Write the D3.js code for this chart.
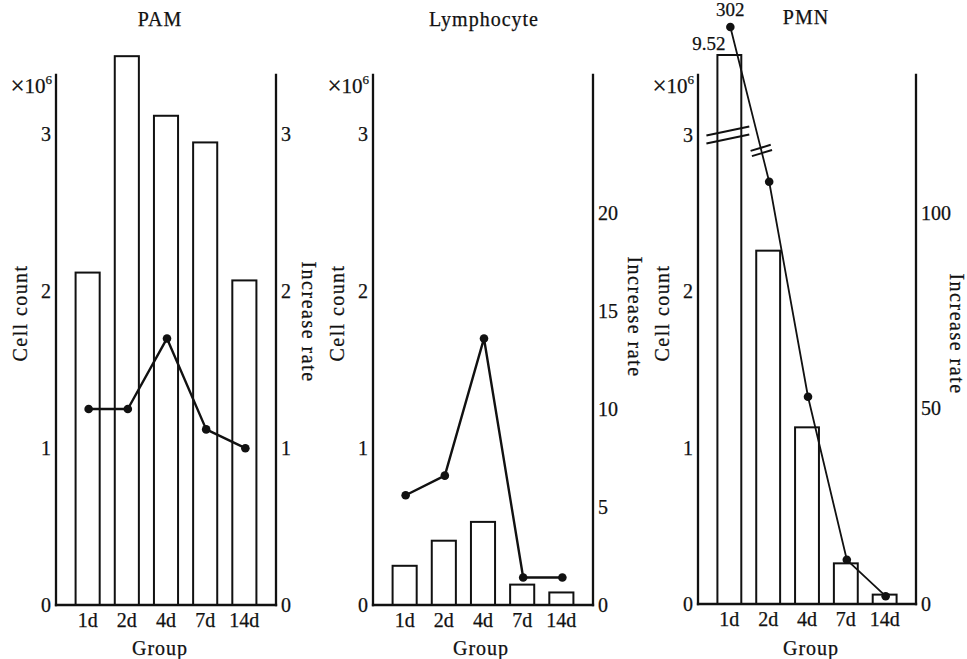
<!DOCTYPE html>
<html>
<head>
<meta charset="utf-8">
<script src="https://cdn.jsdelivr.net/npm/d3@7"></script>
<style>
  html, body { margin: 0; padding: 0; background: #fff; }
  svg { display: block; }
  text { font-family: "Liberation Serif", "DejaVu Serif", serif; fill: #111; stroke: #111; stroke-width: 0.25px; }
</style>
</head>
<body>
<svg id="chart" width="967" height="659"></svg>
<script>
// Groups (days after exposure)
const groups = ["1d", "2d", "4d", "7d", "14d"];

// Cell counts (x10^6)
const pamCount = [2.12, 3.50, 3.12, 2.95, 2.07];
const lymCount = [0.25, 0.41, 0.53, 0.13, 0.08];
const pmnCount = [9.52, 2.26, 1.13, 0.26, 0.06];

// Increase rates
const pamRate = [1.25, 1.25, 1.70, 1.12, 1.00];
const lymRate = [5.6, 6.6, 13.6, 1.4, 1.4];
const pmnRate = [302, 108, 53, 11.3, 2.0];

// Tick values
const countTicks = [0, 1, 2, 3];
const pamRateTicks = [0, 1, 2, 3];
const lymRateTicks = [0, 5, 10, 15, 20];
const pmnRateTicks = [0, 50, 100];

// PMN axes are broken above these values
const pmnCountBreak = 3.0;
const pmnRateBreak = 116;

const svg = d3.select("#chart");
const INK = "#111";

const panels = [
  {
    title: "PAM", left: 56, right: 276, top: 75, bottom: 605,
    count: pamCount, rate: pamRate,
    countDomain: [0, 3.38], rateDomain: [0, 3.38], rateTicks: pamRateTicks,
    titleDx: -6, groupDx: -6, rateLabelDx: 33, rateLabelY: 322, lineWidth: 2.4
  },
  {
    title: "Lymphocyte", left: 373, right: 593, top: 75, bottom: 605,
    count: lymCount, rate: lymRate,
    countDomain: [0, 3.38], rateDomain: [0, 27.04], rateTicks: lymRateTicks,
    titleDx: 1, groupDx: -2, rateLabelDx: 42, rateLabelY: 317, lineWidth: 2.4
  },
  {
    title: "PMN", left: 698, right: 916, top: 75, bottom: 604,
    count: pmnCount, rate: pmnRate,
    // piecewise scales: linear up to the axis top, compressed above the break
    countDomain: [0, 3.39, 9.52], countRangeTop: [74, 55],
    rateDomain: [0, 135.3, 302], rateRangeTop: [75, 27],
    rateTicks: pmnRateTicks,
    titleDx: -1, groupDx: 4, rateLabelDx: 41, rateLabelY: 334, lineWidth: 1.8,
    broken: true
  }
];

function styleTicks(axisG) {
  axisG.select(".domain").remove();
  axisG.attr("font-family", null).attr("font-size", null);
  axisG.selectAll("text").style("font-size", "20px").attr("fill", INK);
}

panels.forEach(p => {
  const g = svg.append("g");

  const x = d3.scaleBand()
    .domain(groups)
    .range([p.left, p.right])
    .paddingInner(0.385)
    .paddingOuter(0.5);

  const yCount = d3.scaleLinear()
    .domain(p.countDomain)
    .range(p.countRangeTop ? [p.bottom, ...p.countRangeTop] : [p.bottom, p.top]);
  const yRate = d3.scaleLinear()
    .domain(p.rateDomain)
    .range(p.rateRangeTop ? [p.bottom, ...p.rateRangeTop] : [p.bottom, p.top]);

  // Title
  g.append("text")
    .attr("x", (p.left + p.right) / 2 + p.titleDx)
    .attr("y", p.broken ? 24 : 26)
    .attr("text-anchor", "middle")
    .style("font-size", "20px")
    .style("letter-spacing", "1px")
    .text(p.title);

  // Bars
  g.selectAll("rect.bar")
    .data(groups.map((d, i) => ({ g: d, v: p.count[i] })))
    .join("rect")
    .attr("class", "bar")
    .attr("x", d => x(d.g))
    .attr("width", x.bandwidth())
    .attr("y", d => yCount(d.v))
    .attr("height", d => p.bottom - yCount(d.v))
    .attr("fill", "#fff")
    .attr("stroke", INK)
    .attr("stroke-width", 2);

  // Axis frame lines
  const frame = g.append("g").attr("stroke", INK).attr("stroke-width", 2.3).attr("stroke-linecap", "square");
  frame.append("line").attr("x1", p.left).attr("x2", p.left).attr("y1", p.top).attr("y2", p.bottom);
  frame.append("line").attr("x1", p.right).attr("x2", p.right).attr("y1", p.top).attr("y2", p.bottom);
  frame.append("line").attr("x1", p.left).attr("x2", p.right).attr("y1", p.bottom).attr("y2", p.bottom);

  // Left axis labels (cell count)
  g.append("g")
    .attr("transform", `translate(${p.left},0)`)
    .call(d3.axisLeft(yCount).tickValues(countTicks).tickSize(0).tickPadding(5).tickFormat(d3.format("d")))
    .call(styleTicks);

  // Right axis labels (increase rate)
  g.append("g")
    .attr("transform", `translate(${p.right},0)`)
    .call(d3.axisRight(yRate).tickValues(p.rateTicks).tickSize(0).tickPadding(5).tickFormat(d3.format("d")))
    .call(styleTicks);

  // Group labels
  g.append("g")
    .attr("transform", `translate(0,${p.bottom})`)
    .call(d3.axisBottom(x).tickSize(0).tickPadding(8))
    .call(styleTicks);

  // Unit label
  const unit = g.append("text")
    .attr("x", p.left - 4)
    .attr("y", 93)
    .attr("text-anchor", "end")
    .style("font-size", "21px");
  unit.append("tspan").style("font-size", "25px").attr("dy", 1).text("×");
  unit.append("tspan").attr("dy", -1).text("10");
  unit.append("tspan").attr("dy", -9).style("font-size", "13px").text("6");

  // Axis titles
  g.append("text")
    .attr("transform", `translate(${p.left - 29},${313}) rotate(-90)`)
    .attr("text-anchor", "middle")
    .style("font-size", "20px")
    .style("letter-spacing", "1.4px")
    .text("Cell count");

  g.append("text")
    .attr("transform", `translate(${p.right + p.rateLabelDx - 7},${p.rateLabelY}) rotate(90)`)
    .attr("text-anchor", "middle")
    .style("font-size", "20px")
    .style("letter-spacing", "1.5px")
    .text("Increase rate");

  g.append("text")
    .attr("x", (p.left + p.right) / 2 + p.groupDx)
    .attr("y", 655)
    .attr("text-anchor", "middle")
    .style("font-size", "20px")
    .style("letter-spacing", "1px")
    .text("Group");

  // Increase-rate line
  const pts = groups.map((d, i) => [x(d) + x.bandwidth() / 2 + 1, yRate(p.rate[i])]);
  g.append("path")
    .attr("d", d3.line()(pts))
    .attr("fill", "none")
    .attr("stroke", INK)
    .attr("stroke-width", p.lineWidth)
    .attr("stroke-linejoin", "round");
  g.selectAll("circle.pt")
    .data(pts)
    .join("circle")
    .attr("class", "pt")
    .attr("cx", d => d[0])
    .attr("cy", d => d[1])
    .attr("r", 4.3)
    .attr("fill", INK);

  if (p.broken) {
    // values of the broken first group
    g.append("text")
      .attr("x", pts[0][0])
      .attr("y", pts[0][1] - 11)
      .attr("text-anchor", "middle")
      .style("font-size", "19px")
      .text(d3.format("d")(p.rate[0]));
    g.append("text")
      .attr("x", x(groups[0]) + 8)
      .attr("y", yCount(p.count[0]) - 5)
      .attr("text-anchor", "end")
      .style("font-size", "19px")
      .text(d3.format(".2f")(p.count[0]));

    // break marks across the first bar
    const bx0 = x(groups[0]) - 11, bx1 = x(groups[0]) + x.bandwidth() + 8;
    const by = yCount(pmnCountBreak);
    [-4, 4].forEach(off => {
      g.append("line")
        .attr("x1", bx0).attr("y1", by + off + 4.5)
        .attr("x2", bx1).attr("y2", by + off - 4.5)
        .attr("stroke", INK).attr("stroke-width", 2.2);
    });

    // break marks across the rate line
    const yb = yRate(pmnRateBreak);
    const t = (yb - pts[0][1]) / (pts[1][1] - pts[0][1]);
    const cx = pts[0][0] + t * (pts[1][0] - pts[0][0]);
    const dir = [pts[1][0] - pts[0][0], pts[1][1] - pts[0][1]];
    const len = Math.hypot(dir[0], dir[1]);
    const u = [dir[0] / len, dir[1] / len];
    const perp = [0.958, -0.287];
    [-2.7, 2.7].forEach(off => {
      const mx = cx + u[0] * off, my = yb + u[1] * off;
      g.append("line")
        .attr("x1", mx - perp[0] * 10.5).attr("y1", my - perp[1] * 10.5)
        .attr("x2", mx + perp[0] * 10.5).attr("y2", my + perp[1] * 10.5)
        .attr("stroke", INK).attr("stroke-width", 2);
    });
  }
});
</script>
</body>
</html>
